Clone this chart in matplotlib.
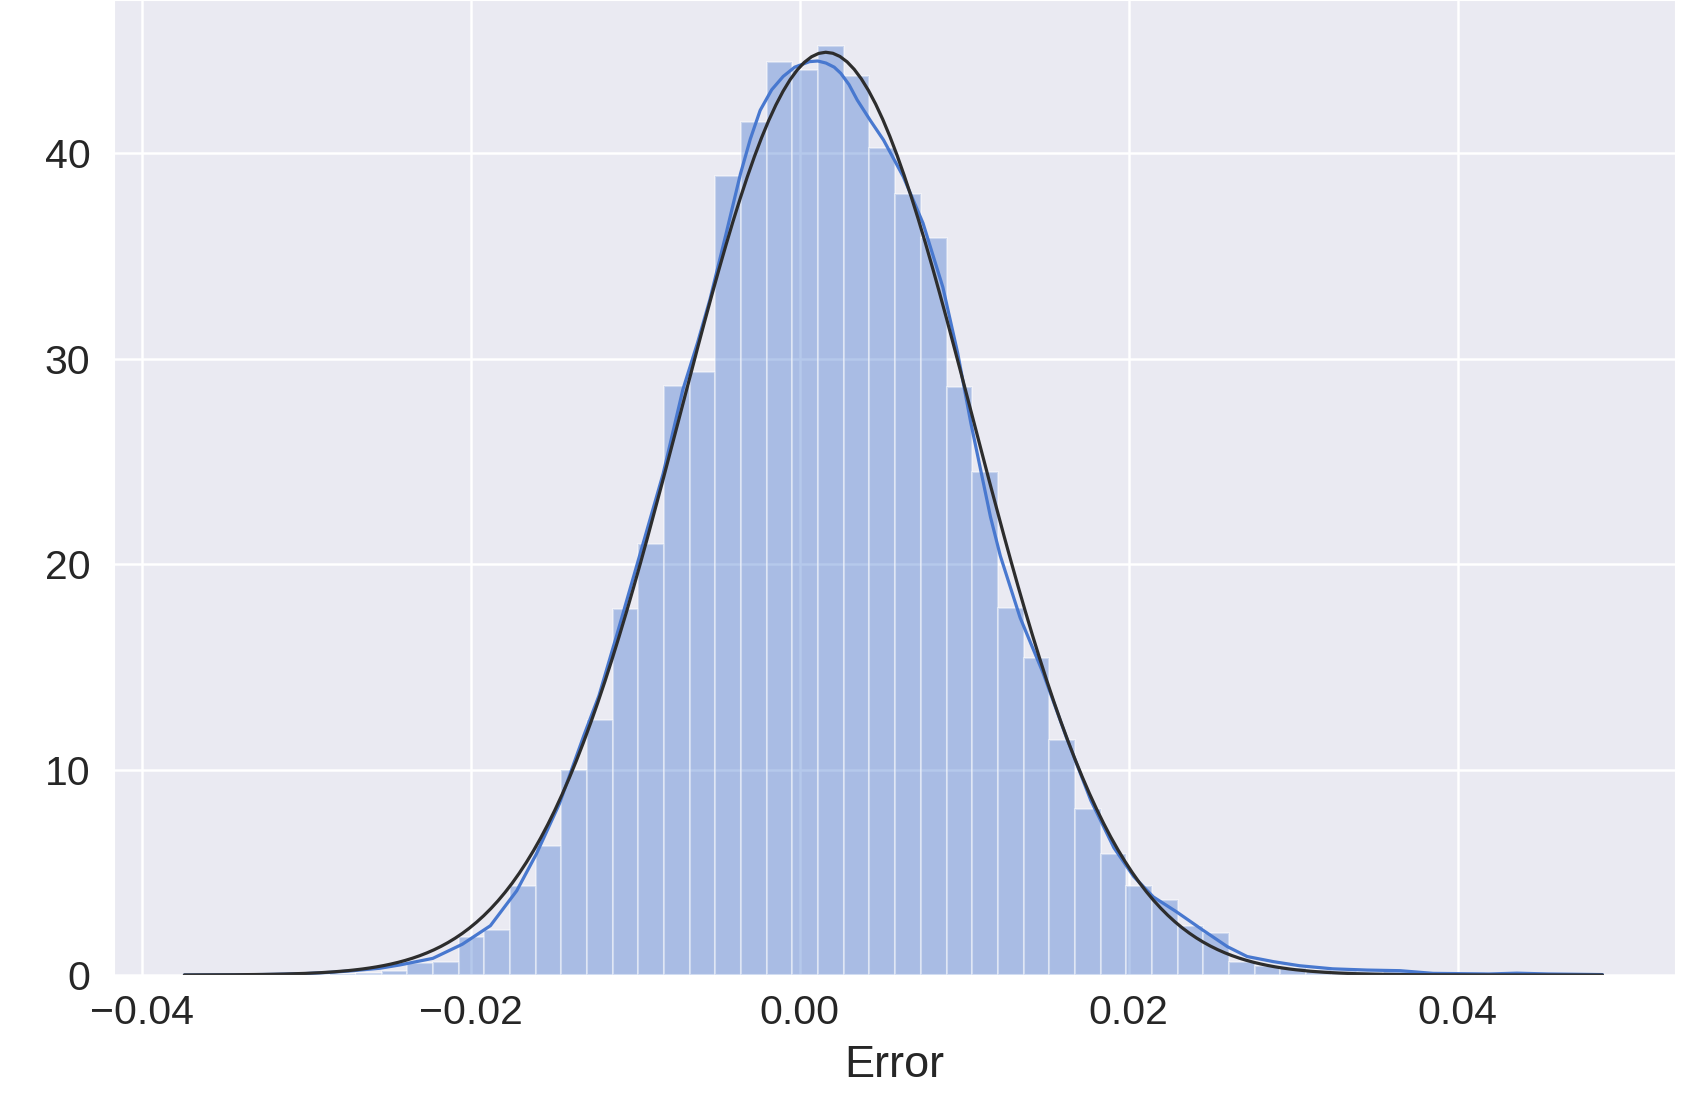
import numpy as np
import matplotlib
matplotlib.use("Agg")
import matplotlib.pyplot as plt
import seaborn as sns

sns.set_style("darkgrid")
plt.rcParams['font.family'] = ['Liberation Sans', 'DejaVu Sans']

# histogram (density) - 50 bins
bin_start = -0.03322
bin_width = 0.001561
bar_heights = [0.01, 0.01, 0.02, 0.04, 0.08,
               0.18, 0.57, 0.65, 1.86, 2.20, 4.35, 6.30, 10.0, 12.4, 17.8,
               21.0, 28.68, 29.37, 38.9, 41.54, 44.47, 44.06, 45.24, 43.77, 40.25,
               38.02, 35.90, 28.61, 24.50, 17.88, 15.45, 11.44, 8.10, 5.89, 4.33,
               3.65, 2.39, 2.03, 0.65, 0.44, 0.33, 0.24, 0.20, 0.15, 0.20,
               0.10, 0.05, 0.05, 0.08, 0.03]

# kde curve (blue)
kde_x = [-0.0374, -0.0340, -0.0320, -0.0300, -0.0285, -0.0273, -0.0255, -0.0243,
         -0.0223, -0.0205, -0.0188, -0.0172, -0.0160, -0.0146, -0.0131, -0.0122,
         -0.0111, -0.0097, -0.0083, -0.0071, -0.0062, -0.00545, -0.0045, -0.0036,
         -0.0030, -0.0024, -0.0017, -0.0010, -0.0003, 0.0006, 0.0011, 0.0016,
         0.0021, 0.0025, 0.0030, 0.0035, 0.0043, 0.0051, 0.0063, 0.0075, 0.0087,
         0.0096, 0.0104, 0.0116, 0.0122, 0.0134, 0.0148, 0.0162, 0.0177, 0.0191,
         0.0203, 0.0215, 0.0229, 0.0245, 0.0260, 0.0272, 0.0288, 0.0304,
         0.0324, 0.0345, 0.0365, 0.0385, 0.0419, 0.0436, 0.0455, 0.0488]
kde_y = [0.00, 0.01, 0.03, 0.07, 0.13, 0.20, 0.33, 0.49,
         0.81, 1.50, 2.40, 4.10, 5.90, 8.35, 11.7, 13.6,
         16.6, 20.5, 24.4, 28.5, 30.8, 32.9, 36.0, 39.0,
         40.7, 42.1, 43.1, 43.75, 44.2, 44.47, 44.5, 44.4,
         44.2, 43.9, 43.35, 42.6, 41.6, 40.65, 38.87, 36.6, 33.5,
         30.3, 26.9, 22.3, 20.4, 17.4, 14.7, 11.6, 8.5, 6.2,
         4.8, 3.8, 3.08, 2.19, 1.38, 0.90, 0.65, 0.45,
         0.30, 0.24, 0.21, 0.08, 0.05, 0.09, 0.05, 0.02]

# fitted normal (black)
mu = 0.0016
sigma = 0.00888
fit_lo, fit_hi = -0.0374, 0.0488

fig = plt.figure(figsize=(17, 11.04), dpi=100)
ax = fig.add_axes([114 / 1700, 1 - 975 / 1104, (1675 - 114) / 1700, 975 / 1104])

edges = bin_start + bin_width * np.arange(len(bar_heights))
ax.bar(edges, bar_heights, width=bin_width, align='edge', color='#4878CF',
       alpha=0.4, edgecolor='white', linewidth=1.5)
ax.plot(kde_x, kde_y, color='#4878CF', lw=2.3, solid_joinstyle='round')

xs = np.linspace(fit_lo, fit_hi, 200)
ax.plot(xs, np.exp(-0.5 * ((xs - mu) / sigma) ** 2) / (sigma * np.sqrt(2 * np.pi)),
        color='#2d2d2d', lw=2.3)

ax.set_xlim(-0.04168, 0.05321)
ax.set_ylim(0, 47.47)
ax.set_xticks([-0.04, -0.02, 0.00, 0.02, 0.04])
ax.set_xticklabels(['\u22120.04', '\u22120.02', '0.00', '0.02', '0.04'])
ax.set_yticks([0, 10, 20, 30, 40])
ax.tick_params(axis='both', labelsize=29.5, colors='.15', length=0)
ax.tick_params(axis='x', pad=14)
ax.tick_params(axis='y', pad=17)
ax.grid(color='white', linewidth=1.8)
ax.set_xlabel('Error', fontsize=32.5, color='.15', labelpad=9)

fig.savefig('out.png', dpi=100)
